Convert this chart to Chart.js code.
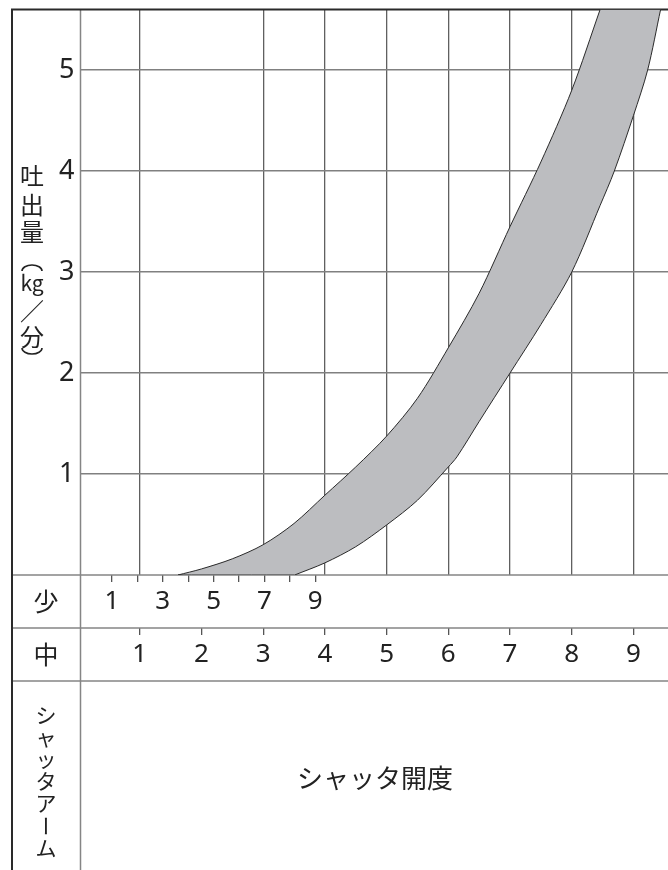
<!DOCTYPE html>
<html lang="ja">
<head>
<meta charset="UTF-8">
<title>吐出量</title>
<script src="https://cdn.jsdelivr.net/npm/chart.js"></script>
<style>
    body { margin: 0; background: #fff; }
    #wrap { width: 668px; height: 870px; }
</style>
</head>
<body>
<div id="wrap"><canvas id="chart" width="668" height="870"></canvas></div>
<script>
    // シャッタ開度 (中 scale) ticks, 少 scale ticks, 吐出量 ticks
    const nakaTicks = [1, 2, 3, 4, 5, 6, 7, 8, 9];
    const shoTicks = [1, 2, 3, 4, 5, 6, 7, 8, 9];
    const yTicks = [1, 2, 3, 4, 5];

    // band, upper-left edge (bottom -> top), x in 中 units
    const upperX = [1.62, 2.0, 2.5, 3.0, 3.5, 4.0, 4.5, 5.0, 5.5, 6.0, 6.5, 7.0, 7.5, 8.0, 8.46];
    const upperY = [0, 0.06, 0.16, 0.30, 0.51, 0.79, 1.07, 1.375, 1.75, 2.25, 2.79, 3.45, 4.09, 4.80, 5.6];
    // band, lower-right edge (top -> bottom)
    const lowerX = [9.44, 9.23, 9.0, 8.69, 8.46, 8.0, 7.5, 7.0, 6.5, 6.14, 6.0, 5.5, 5.0, 4.5, 4.0, 3.51];
    const lowerY = [5.6, 5.0, 4.55, 4.0, 3.66, 3.0, 2.48, 2.0, 1.52, 1.17, 1.07, 0.74, 0.495, 0.28, 0.12, 0];

    // closed outline; corner points doubled so the spline keeps sharp corners
    const band = [];
    upperX.forEach((x, i) => band.push({ x: x, y: upperY[i] }));
    band.push({ x: upperX[upperX.length - 1], y: upperY[upperY.length - 1] });
    band.push({ x: lowerX[0], y: lowerY[0] });
    lowerX.forEach((x, i) => band.push({ x: x, y: lowerY[i] }));
    band.push({ x: lowerX[lowerX.length - 1], y: lowerY[lowerY.length - 1] });
    band.push({ x: upperX[0], y: upperY[0] });

    const jp = "'Noto Sans CJK JP', sans-serif";
    Chart.defaults.font.family = "'Noto Sans', 'Noto Sans CJK JP', sans-serif";
    Chart.defaults.color = '#222';

    function rotated(ctx, t, x, y) {
        ctx.save();
        ctx.translate(x, y);
        ctx.rotate(Math.PI / 2);
        ctx.fillText(t, 0, 0);
        ctx.restore();
    }

    const frame = {
        id: 'frame',
        beforeDatasetsDraw(chart) {
            const ctx = chart.ctx;
            const a = chart.chartArea;
            const sho = chart.scales.xs, naka = chart.scales.x;
            const left = 12, right = chart.width, bottom = chart.height;
            ctx.save();
            ctx.strokeStyle = '#858585';
            ctx.lineWidth = 1.5;
            [a.bottom, sho.bottom, naka.bottom].forEach(y => {
                ctx.beginPath();
                ctx.moveTo(left, y);
                ctx.lineTo(right, y);
                ctx.stroke();
            });
            ctx.beginPath();
            ctx.moveTo(a.left, a.top);
            ctx.lineTo(a.left, bottom);
            ctx.stroke();
            ctx.strokeStyle = '#2a2a2a';
            ctx.lineWidth = 2;
            ctx.beginPath();
            ctx.moveTo(left, bottom);
            ctx.lineTo(left, a.top);
            ctx.lineTo(right, a.top);
            ctx.stroke();
            ctx.restore();
        },
        afterDraw(chart) {
            const ctx = chart.ctx;
            const sho = chart.scales.xs, naka = chart.scales.x;
            ctx.save();
            ctx.fillStyle = '#222';
            ctx.strokeStyle = '#222';
            ctx.textAlign = 'center';
            ctx.textBaseline = 'middle';

            // y axis title, written top to bottom: 吐出量（kg／分）
            const cx = 32;
            ctx.font = '24px ' + jp;
            ctx.fillText('吐', cx, 176);
            ctx.fillText('出', cx, 205);
            ctx.fillText('量', cx, 232);
            ctx.fillText('／', cx, 311);
            ctx.fillText('分', cx, 337);
            ctx.font = '21px ' + jp;
            ctx.fillText('kg', cx, 283);
            // vertical-form brackets
            ctx.lineWidth = 1.6;
            ctx.beginPath();
            ctx.ellipse(cx, 271, 10, 6, 0, Math.PI, 2 * Math.PI);
            ctx.stroke();
            ctx.beginPath();
            ctx.ellipse(cx, 348, 10, 6, 0, 0, Math.PI);
            ctx.stroke();

            ctx.font = '25px ' + jp;
            ctx.fillText('少', 46, (sho.top + sho.bottom) / 2);
            ctx.fillText('中', 46, (naka.top + naka.bottom) / 2);

            ctx.font = '21px ' + jp;
            const arm = [['シ', 715], ['ャ', 737], ['ッ', 759], ['タ', 781], ['ア', 803], ['ー', 826], ['ム', 848]];
            arm.forEach(([t, y]) => {
                if (t === 'ー') rotated(ctx, t, 46, y);
                else ctx.fillText(t, 46, y);
            });

            ctx.font = '26px ' + jp;
            ctx.fillText('シャッタ開度', 375, 778);
            ctx.restore();
        }
    };

    new Chart(document.getElementById('chart'), {
        type: 'line',
        data: {
            datasets: [{
                data: band,
                xAxisID: 'x',
                yAxisID: 'y',
                borderColor: '#2a2a2a',
                borderWidth: 1,
                backgroundColor: '#bcbdc0',
                fill: 'shape',
                tension: 0.3,
                pointRadius: 0
            }]
        },
        options: {
            responsive: false,
            devicePixelRatio: 1,
            animation: false,
            layout: { padding: { left: 12, top: 9.5, right: 0, bottom: 189 } },
            plugins: {
                legend: { display: false },
                tooltip: { enabled: false }
            },
            scales: {
                x: {
                    type: 'linear',
                    position: 'bottom',
                    weight: 1,
                    min: 0.04,
                    max: 9.56,
                    afterBuildTicks: s => { s.ticks = nakaTicks.map(v => ({ value: v })); },
                    afterFit: s => { s.height = 53; s.paddingLeft = 0; s.paddingRight = 0; },
                    border: { display: false },
                    grid: {
                        color: c => (c.tick && c.tick.value === 2) ? 'rgba(0,0,0,0)' : '#606060',
                        tickColor: '#555',
                        tickLength: 7,
                        lineWidth: 1.3
                    },
                    ticks: { font: { size: 26 }, padding: 4, maxRotation: 0, autoSkip: false }
                },
                xs: {
                    type: 'linear',
                    position: 'bottom',
                    weight: 0,
                    min: -0.24,
                    max: 22.89,
                    afterBuildTicks: s => { s.ticks = shoTicks.map(v => ({ value: v })); },
                    afterFit: s => { s.height = 53; s.paddingLeft = 0; s.paddingRight = 0; },
                    border: { display: false },
                    grid: { drawOnChartArea: false, tickColor: '#555', tickLength: 7, lineWidth: 1.3 },
                    ticks: {
                        font: { size: 26 },
                        padding: 4,
                        maxRotation: 0,
                        autoSkip: false,
                        callback: v => (v % 2 === 1 ? String(v) : '')
                    }
                },
                y: {
                    type: 'linear',
                    min: 0,
                    max: 5.6,
                    afterBuildTicks: s => { s.ticks = yTicks.map(v => ({ value: v })); },
                    afterFit: s => { s.width = 68.5; s.paddingTop = 0; s.paddingBottom = 0; },
                    border: { display: false },
                    grid: { color: '#808080', lineWidth: 1.5, drawTicks: false },
                    ticks: { font: { size: 27 }, padding: 6 }
                }
            }
        },
        plugins: [frame]
    });
</script>
</body>
</html>
